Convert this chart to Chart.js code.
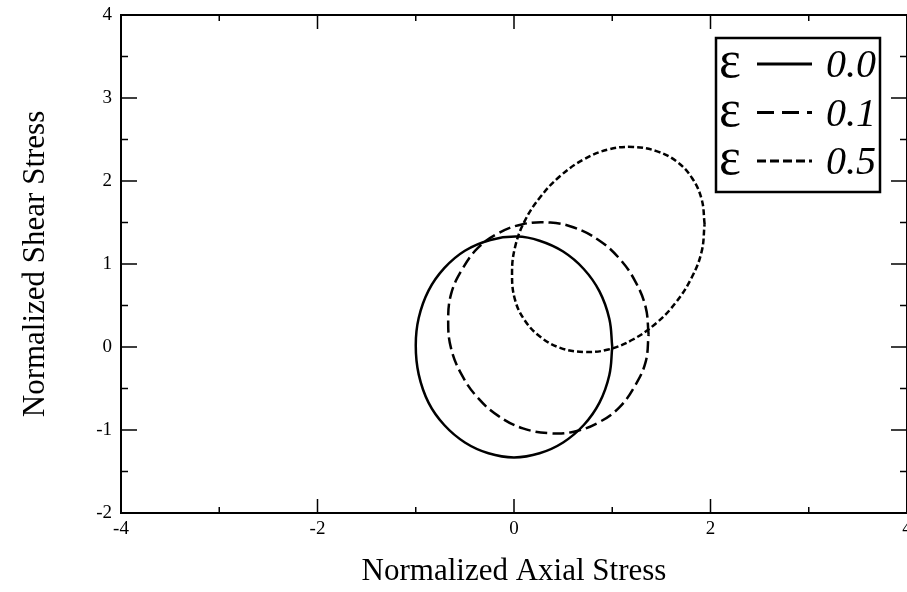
<!DOCTYPE html>
<html lang="en">
<head>
    <meta charset="UTF-8">
    <title>Normalized Shear vs Axial Stress</title>
    <style>
        body {
            margin: 0;
            padding: 0;
            background-color: #fff;
        }
        canvas {
            display: block;
        }
    </style>
    <script src="https://cdn.jsdelivr.net/npm/chart.js"></script>
</head>
<body>
    <canvas id="stressChart" width="907" height="592"></canvas>

    <script>
        // strain levels shown in the legend
        const strainLabels = ['0.0', '0.1', '0.5'];

        // eps = 0.0 yield curve
        const axial00 = [1.00, 0.97, 0.87, 0.71, 0.50, 0.26, 0.03, -0.24, -0.50, -0.71, -0.87, -0.97, -1.00, -0.97, -0.87, -0.71, -0.50, -0.26, 0.00, 0.26, 0.50, 0.71, 0.87, 0.97, 1.00];
        const shear00 = [0.00, 0.34, 0.67, 0.94, 1.15, 1.28, 1.33, 1.29, 1.16, 0.95, 0.68, 0.35, 0.02, -0.33, -0.67, -0.94, -1.15, -1.28, -1.33, -1.28, -1.15, -0.94, -0.67, -0.34, 0.00];

        // eps = 0.1
        const axial01 = [1.37, 1.34, 1.23, 1.07, 0.86, 0.61, 0.37, 0.09, -0.16, -0.37, -0.53, -0.64, -0.67, -0.64, -0.53, -0.37, -0.16, 0.09, 0.37, 0.61, 0.86, 1.07, 1.23, 1.34, 1.37];
        const shear01 = [0.15, 0.48, 0.80, 1.07, 1.29, 1.44, 1.50, 1.48, 1.37, 1.19, 0.93, 0.64, 0.31, -0.02, -0.34, -0.61, -0.83, -0.98, -1.04, -1.02, -0.91, -0.73, -0.47, -0.18, 0.15];

        // eps = 0.5
        const axial05 = [1.94, 1.91, 1.81, 1.65, 1.45, 1.21, 0.96, 0.71, 0.47, 0.27, 0.11, 0.01, -0.02, 0.01, 0.11, 0.27, 0.47, 0.71, 0.96, 1.21, 1.45, 1.65, 1.81, 1.91, 1.94];
        const shear05 = [1.48, 1.78, 2.04, 2.24, 2.36, 2.41, 2.38, 2.26, 2.06, 1.81, 1.52, 1.20, 0.88, 0.57, 0.32, 0.12, -0.01, -0.06, -0.03, 0.09, 0.29, 0.54, 0.84, 1.15, 1.48];

        const xTicks = [-4, -2, 0, 2, 4];
        const xMinorTicks = [-3, -1, 1, 3];
        const yTicks = [-2, -1, 0, 1, 2, 3, 4];
        const yMinorTicks = [-1.5, -0.5, 0.5, 1.5, 2.5, 3.5];

        const serif = "'Liberation Serif', 'DejaVu Serif', serif";

        function toPoints(xs, ys) {
            return xs.map((x, i) => ({ x: x, y: ys[i] }));
        }

        const lineStyles = [
            { dash: [], legendDash: [] },
            { dash: [12, 5], legendDash: [17, 8] },
            { dash: [6, 3], legendDash: [9, 4] }
        ];

        const curves = [[axial00, shear00], [axial01, shear01], [axial05, shear05]];

        const datasets = curves.map((c, i) => ({
            label: strainLabels[i],
            data: toPoints(c[0], c[1]),
            showLine: true,
            borderColor: '#000',
            borderWidth: 2.5,
            borderDash: lineStyles[i].dash,
            pointRadius: 0,
            tension: 0.4,
            fill: false
        }));

        // inward tick marks on all four sides plus the closed frame
        const frameTicks = {
            id: 'frameTicks',
            afterDraw(chart) {
                const ctx = chart.ctx;
                const a = chart.chartArea;
                const xs = chart.scales.x;
                const ys = chart.scales.y;
                ctx.save();
                ctx.strokeStyle = '#000';
                ctx.lineWidth = 2;
                ctx.strokeRect(a.left, a.top, a.right - a.left, a.bottom - a.top);
                ctx.lineWidth = 1.5;
                ctx.beginPath();
                const xMark = (v, len) => {
                    const p = xs.getPixelForValue(v);
                    ctx.moveTo(p, a.bottom); ctx.lineTo(p, a.bottom - len);
                    ctx.moveTo(p, a.top); ctx.lineTo(p, a.top + len);
                };
                const yMark = (v, len) => {
                    const p = ys.getPixelForValue(v);
                    ctx.moveTo(a.left, p); ctx.lineTo(a.left + len, p);
                    ctx.moveTo(a.right, p); ctx.lineTo(a.right - len, p);
                };
                xTicks.forEach(v => xMark(v, 14));
                xMinorTicks.forEach(v => xMark(v, 6));
                yTicks.forEach(v => yMark(v, 16));
                yMinorTicks.forEach(v => yMark(v, 7));
                ctx.stroke();
                ctx.restore();
            }
        };

        // boxed legend: "ε  line  value"
        const strainLegend = {
            id: 'strainLegend',
            afterDraw(chart) {
                const ctx = chart.ctx;
                const box = { left: 716, top: 38, right: 880, bottom: 192 };
                ctx.save();
                ctx.fillStyle = '#fff';
                ctx.fillRect(box.left, box.top, box.right - box.left, box.bottom - box.top);
                ctx.strokeStyle = '#000';
                ctx.lineWidth = 2.5;
                ctx.strokeRect(box.left, box.top, box.right - box.left, box.bottom - box.top);
                ctx.fillStyle = '#000';
                ctx.textBaseline = 'alphabetic';
                chart.data.datasets.forEach((ds, i) => {
                    const base = 77 + i * 48.5;
                    ctx.font = '52px ' + serif;
                    ctx.textAlign = 'left';
                    ctx.fillText('\u03b5', 719, base);
                    ctx.beginPath();
                    ctx.lineWidth = 3;
                    ctx.setLineDash(lineStyles[i].legendDash);
                    ctx.moveTo(757, base - 13);
                    ctx.lineTo(812, base - 13);
                    ctx.stroke();
                    ctx.setLineDash([]);
                    ctx.font = 'italic 40px ' + serif;
                    ctx.textAlign = 'right';
                    ctx.fillText(ds.label, 876, base);
                });
                ctx.restore();
            }
        };

        function renderChart() {
            const ctx = document.getElementById('stressChart').getContext('2d');
            new Chart(ctx, {
                type: 'scatter',
                data: { datasets: datasets },
                options: {
                    responsive: false,
                    animation: false,
                    layout: {
                        autoPadding: false,
                        padding: { top: 15, right: -9, left: 0, bottom: 0 }
                    },
                    plugins: {
                        legend: { display: false },
                        tooltip: { enabled: false }
                    },
                    scales: {
                        x: {
                            type: 'linear',
                            min: -4,
                            max: 4,
                            afterBuildTicks: s => { s.ticks = xTicks.map(v => ({ value: v })); },
                            afterFit: s => { s.height = 79; s.paddingLeft = 0; s.paddingRight = 0; },
                            grid: { display: false, drawTicks: false },
                            border: { display: false },
                            ticks: {
                                color: '#000',
                                padding: 5,
                                maxRotation: 0,
                                font: { family: serif, size: 19 }
                            },
                            title: {
                                display: true,
                                text: 'Normalized Axial Stress',
                                color: '#000',
                                font: { family: serif, size: 31 },
                                padding: { top: 0, bottom: 2 }
                            }
                        },
                        y: {
                            type: 'linear',
                            min: -2,
                            max: 4,
                            afterBuildTicks: s => { s.ticks = yTicks.map(v => ({ value: v })); },
                            afterFit: s => { s.width = 121; s.paddingTop = 0; s.paddingBottom = 0; },
                            grid: { display: false, drawTicks: false },
                            border: { display: false },
                            ticks: {
                                color: '#000',
                                padding: 9,
                                font: { family: serif, size: 19 }
                            },
                            title: {
                                display: true,
                                text: 'Normalized Shear Stress',
                                color: '#000',
                                font: { family: serif, size: 31 },
                                padding: { top: 17, bottom: 0 }
                            }
                        }
                    }
                },
                plugins: [frameTicks, strainLegend]
            });
        }

        document.addEventListener('DOMContentLoaded', renderChart);
    </script>
</body>
</html>
